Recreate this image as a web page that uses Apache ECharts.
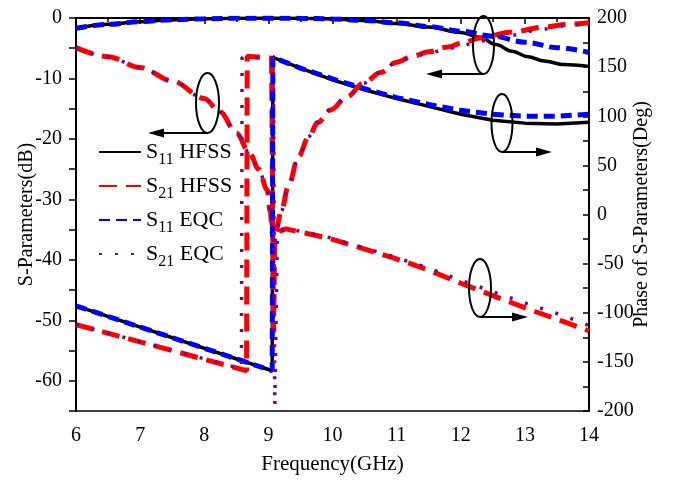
<!DOCTYPE html>
<html>
<head>
<meta charset="utf-8">
<script src="https://cdn.jsdelivr.net/npm/echarts@6/dist/echarts.min.js"></script>
<style>
  html, body { margin: 0; padding: 0; background: #fff; }
  #chart { width: 680px; height: 480px; }
</style>
</head>
<body>
<div id="chart"></div>
<script>
// legend names
const legendNames = ['S11 HFSS', 'S21 HFSS', 'S11 EQC', 'S21 EQC']

// magnitude (dB), left axis
const s11HfssDbF = [6, 6.5, 7, 7.5, 8, 8.5, 9, 9.5, 10, 10.5, 11, 11.5, 12, 12.3, 12.55, 12.8, 13.05, 13.3, 13.6, 14]
const s11HfssDbV = [-1.7, -1.05, -0.6, -0.3, -0.12, -0.05, -0.02, -0.05, -0.15, -0.4, -0.9, -1.5, -2.4, -3.2, -4.4, -5.5, -6.4, -7.1, -7.7, -8.0]
const s11EqcDbF = [6, 6.5, 7, 7.5, 8, 8.5, 9, 9.5, 10, 10.5, 11, 11.5, 12, 12.5, 13, 13.5, 14]
const s11EqcDbV = [-1.7, -1.05, -0.6, -0.3, -0.12, -0.05, -0.02, -0.05, -0.15, -0.4, -0.8, -1.4, -2.2, -3.0, -4.0, -4.9, -5.7]
const s21HfssDbF = [6, 6.5, 7, 7.5, 8, 8.25, 8.5, 8.7, 8.85, 8.98, 9.03, 9.06, 9.08, 9.12, 9.2, 9.31, 9.47, 9.63, 9.77, 9.97, 10.23, 10.48, 10.75, 11, 11.25, 11.5, 11.8, 12, 12.3, 12.8, 13.3, 13.7, 14]
const s21HfssDbV = [-4.9, -6.4, -8.2, -10.4, -13.3, -15.6, -19.0, -22.2, -25.0, -28.4, -32.0, -35.5, -37.5, -35, -32, -27.9, -22.9, -19.6, -17.3, -15.2, -13.0, -10.8, -9.0, -7.3, -6.3, -5.6, -4.8, -4.2, -3.3, -2.3, -1.5, -1.0, -0.8]
const s21EqcDbF = [6, 6.5, 7, 7.5, 8, 8.25, 8.5, 8.7, 8.85, 8.98, 9.03, 9.06, 9.09, 9.13, 9.2, 9.31, 9.47, 9.63, 9.77, 9.97, 10.23, 10.48, 10.75, 11, 11.25, 11.5, 11.8, 12, 12.3, 12.8, 13.3, 13.7, 14]
const s21EqcDbV = [-4.9, -6.4, -8.2, -10.4, -13.3, -15.6, -19.0, -22.2, -25.0, -28.4, -32.0, -35.5, -38, -35, -32, -27.9, -22.9, -19.6, -17.3, -15.2, -13.0, -10.8, -9.0, -7.3, -6.4, -5.8, -5.1, -4.6, -3.8, -2.8, -1.8, -1.2, -0.9]

// phase (Deg), right axis
const s11HfssPhF = [6, 9.06, 9.07, 9.5, 10, 10.5, 11, 11.5, 12, 12.5, 13, 13.5, 14]
const s11HfssPhV = [-93, -159, 160, 149, 137, 127, 118, 110, 102, 96, 93, 92, 94]
const s11EqcPhF = [6, 9.06, 9.07, 9.5, 10, 10.5, 11, 11.5, 12, 12.5, 13, 13.5, 14]
const s11EqcPhV = [-93, -159, 160, 149, 138, 128, 119, 112, 106, 102, 100, 100, 102]
const s21HfssPhF = [6, 8.66, 8.67, 9.05, 9.08, 9.1, 9.18, 9.27, 9.92, 10.44, 10.95, 11.48, 12, 12.52, 13.04, 13.56, 14]
const s21HfssPhV = [-112, -159, 161, 159, -120, -25, -17, -14.6, -23.8, -34, -44.2, -56, -70, -83, -96, -108, -118.5]
const s21EqcPhF = [6, 8.58, 8.59, 9.08, 9.1, 9.14, 9.27, 9.92, 10.44, 10.95, 11.48, 12, 12.52, 13.04, 13.56, 14]
const s21EqcPhV = [-112, -157, 160, 159, -195, -18, -14, -23, -33, -43, -54, -67, -79, -91, -102, -113]

// axis ranges
const freqMin = 6, freqMax = 14
const dbMin = -65, dbMax = 0
const phMin = -200, phMax = 200

const zip = (f, v) => f.map((x, i) => [x, v[i]])

const serif = 'Liberation Serif'
const chart = echarts.init(document.getElementById('chart'))

// annotation arrows and ellipses
const arrow = (x1, x2, y) => {
  const dir = x2 > x1 ? 1 : -1
  return [
    { type: 'line', shape: { x1: x1, y1: y, x2: x2 - dir * 12, y2: y }, style: { stroke: '#000', lineWidth: 2 }, z: 100 },
    { type: 'polygon', shape: { points: [[x2, y], [x2 - dir * 16, y - 4.5], [x2 - dir * 16, y + 4.5]] }, style: { fill: '#000' }, z: 100 }
  ]
}
const ellipse = (cx, cy, rx, ry) => ({
  type: 'ellipse', shape: { cx: cx, cy: cy, rx: rx, ry: ry }, style: { fill: 'none', stroke: '#000', lineWidth: 2 }, z: 100
})

const lineSeries = (name, data, color, width, dash, yIndex, smooth, showLegend, z) => ({
  name: showLegend ? name : name + ' phase',
  type: 'line',
  yAxisIndex: yIndex,
  data: data,
  showSymbol: false,
  symbol: 'none',
  smooth: smooth ? 0.35 : false,
  smoothMonotone: 'x',
  z: z,
  lineStyle: { color: color, width: width, type: dash, cap: 'butt' },
  itemStyle: { color: color }
})

chart.setOption({
  animation: false,
  backgroundColor: '#fff',
  textStyle: { fontFamily: serif },
  grid: { left: 76, right: 91, top: 18, bottom: 68, show: true, borderColor: '#000', borderWidth: 1.5 },
  legend: {
    data: legendNames,
    orient: 'vertical',
    left: 93,
    top: 136,
    itemWidth: 42,
    itemHeight: 14,
    itemGap: 7,
    itemStyle: { opacity: 0 },
    formatter: name => {
      const m = name.match(/^S(\d+) (.*)$/)
      return '{a|S}{b|' + m[1] + '}{a| ' + m[2] + '}'
    },
    textStyle: {
      fontFamily: serif,
      color: '#000',
      rich: {
        a: { fontSize: 22, fontFamily: serif, color: '#000', lineHeight: 32, verticalAlign: 'middle' },
        b: { fontSize: 16, fontFamily: serif, color: '#000', lineHeight: 16, verticalAlign: 'bottom' }
      }
    }
  },
  xAxis: {
    type: 'value',
    min: freqMin,
    max: freqMax,
    interval: 1,
    name: 'Frequency(GHz)',
    nameLocation: 'middle',
    nameGap: 43,
    nameMoveOverlap: false,
    nameTextStyle: { fontSize: 21, fontFamily: serif, color: '#000' },
    axisLine: { lineStyle: { color: '#000', width: 2 } },
    axisTick: { inside: false, length: 6, lineStyle: { color: '#000', width: 1.5 } },
    minorTick: { show: true, splitNumber: 2, length: 4, lineStyle: { color: '#000', width: 1.5 } },
    axisLabel: { fontSize: 20, fontFamily: serif, color: '#000', margin: 15 },
    splitLine: { show: false }
  },
  yAxis: [
    {
      type: 'value',
      min: dbMin,
      max: dbMax,
      interval: 5,
      name: 'S-Parameters(dB)',
      nameLocation: 'middle',
      nameRotate: 90,
      nameGap: 39,
      nameMoveOverlap: false,
      nameTextStyle: { fontSize: 20, fontFamily: serif, color: '#000' },
      axisLine: { show: true, lineStyle: { color: '#000', width: 2 } },
      axisTick: { inside: false, length: 7, lineStyle: { color: '#000', width: 1.5 } },
      axisLabel: {
        fontSize: 20, fontFamily: serif, color: '#000', margin: 14,
        formatter: v => (v % 10 === 0 ? String(v) : '')
      },
      splitLine: { show: false }
    },
    {
      type: 'value',
      position: 'right',
      min: phMin,
      max: phMax,
      interval: 50,
      name: 'Phase of S-Parameters(Deg)',
      nameLocation: 'middle',
      nameRotate: 90,
      nameGap: 43,
      nameMoveOverlap: false,
      nameTextStyle: { fontSize: 20, fontFamily: serif, color: '#000' },
      axisLine: { show: true, lineStyle: { color: '#000', width: 2 } },
      axisTick: { inside: true, length: 6, lineStyle: { color: '#000', width: 1.5 } },
      minorTick: { show: true, splitNumber: 2, length: 6, lineStyle: { color: '#000', width: 1.5 } },
      axisLabel: { fontSize: 20, fontFamily: serif, color: '#000', margin: 8 },
      splitLine: { show: false }
    }
  ],
  series: [
    lineSeries('S11 HFSS', zip(s11HfssDbF, s11HfssDbV), '#000000', 3.5, 'solid', 0, true, true, 2),
    lineSeries('S21 HFSS', zip(s21HfssDbF, s21HfssDbV), '#ff0000', 5, [18, 9], 0, true, true, 3),
    lineSeries('S11 EQC', zip(s11EqcDbF, s11EqcDbV), '#0000ff', 5, [11, 6], 0, true, true, 4),
    lineSeries('S21 EQC', zip(s21EqcDbF, s21EqcDbV), '#800080', 3.5, [3, 13], 0, true, true, 5),
    lineSeries('S11 HFSS', zip(s11HfssPhF, s11HfssPhV), '#000000', 3.5, 'solid', 1, false, false, 2),
    lineSeries('S21 HFSS', zip(s21HfssPhF, s21HfssPhV), '#ff0000', 5, [18, 9], 1, false, false, 3),
    lineSeries('S11 EQC', zip(s11EqcPhF, s11EqcPhV), '#0000ff', 5, [11, 6], 1, false, false, 4),
    lineSeries('S21 EQC', zip(s21EqcPhF, s21EqcPhV), '#800080', 3.5, [3, 13], 1, false, false, 5)
  ],
  graphic: [
    ellipse(207.5, 103, 11.5, 30),
    ...arrow(207.5, 148, 133),
    ellipse(483.5, 45, 10.5, 29),
    ...arrow(483.5, 426, 74),
    ellipse(502, 123, 10.5, 29),
    ...arrow(502, 552, 152),
    ellipse(480, 288, 11, 29),
    ...arrow(480, 528, 317)
  ]
})

window.addEventListener('resize', () => chart.resize())
</script>
</body>
</html>
